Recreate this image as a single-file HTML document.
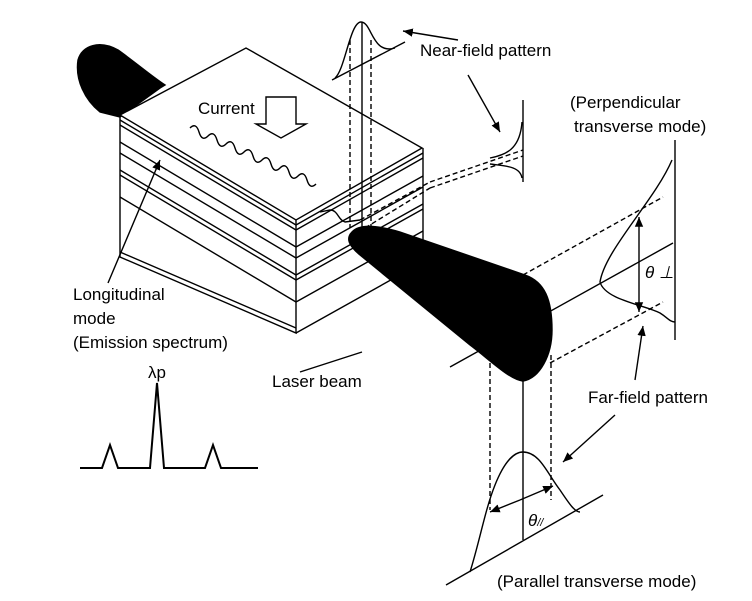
<!DOCTYPE html>
<html><head><meta charset="utf-8"><style>
html,body{margin:0;padding:0;background:#fff}
svg{display:block}
text{font-family:"Liberation Sans",sans-serif;font-size:17px;fill:#000;stroke:none}
</style></head><body>
<svg width="752" height="601" viewBox="0 0 752 601" stroke="#000" fill="none" stroke-width="1.4">
<defs><marker id="ah" markerWidth="8" markerHeight="8" refX="7" refY="4" orient="auto"><path d="M0,1 L7,4 L0,7 Z" fill="#000" stroke="none"/></marker></defs>
<path d="M160,88 L120,117 L100,112 C85,100 75,80 78,60 C82,45 100,40 118,50 C135,62 150,75 165,85 Z" fill="#000"/>
<g>
<path d="M120,115 L246,48 L422,148 L296,220 Z" fill="#fff"/>
<path d="M120,115 L120,257 L296,333 L296,220"/>
<path d="M296,333 L423,262 L423,148"/>
<path d="M120,120 L296,225 M120,125 L296,230 M120,142 L296,247 M120,153 L296,258 M120,170 L296,275 M120,175 L296,280 M120,197 L296,302 M120,252 L296,328"/>
<path d="M296,225 L423,153 M296,230 L423,158 M296,247 L423,176 M296,258 L423,187 M296,275 L423,204 M296,280 L423,209 M296,302 L423,231"/>
<path d="M320,212 L330,210 C338,210 338,220 345,222 L360,220"/>
</g>
<path d="M266,97 L296,97 L296,124 L306,124 L281,138 L256,124 L266,124 Z" fill="#fff"/>
<text x="198" y="114">Current</text>
<path d="M190,128 q6,-6 9,4 q3,10 9,4 q6,-6 9,4 q3,10 9,4 q6,-6 9,4 q3,10 9,4 q6,-6 9,4 q3,10 9,4 q6,-6 9,4 q3,10 9,4 q6,-6 9,4 q3,10 9,4 q6,-6 9,4 q3,10 9,4"/>
<path d="M108,283 L160,160" marker-end="url(#ah)"/>
<text x="73" y="300">Longitudinal</text>
<text x="73" y="324">mode</text>
<text x="73" y="348">(Emission spectrum)</text>
<g>
<path d="M362,22 L362,228"/>
<path d="M350,40 L350,228 M371,40 L371,228" stroke-dasharray="5,3"/>
<path d="M332,80 L405,42"/>
<path d="M335,78 C345,70 350,22 361,22 C372,22 372,55 395,48"/>
<path d="M523,100 L523,182"/>
<path d="M430,182 L523,150 M430,188 L523,156 M360,220 L430,182 M365,228 L430,188" stroke-dasharray="5,3"/>
<path d="M490,158 C505,155 520,150 522,122 M490,164 C505,166 520,166 522,178"/>
<path d="M458,40 L403,31" marker-end="url(#ah)"/>
<path d="M468,75 L500,132" marker-end="url(#ah)"/>
</g>
<text x="420" y="56">Near-field pattern</text>
<path d="M352,232 C360,223 380,226 400,232 L525,275 C545,282 552,300 552,330 C552,355 540,378 523,381 C510,380 490,360 470,345 L360,255 C348,245 346,238 352,232 Z" fill="#000"/>
<path d="M450,367 L673,243"/>
<path d="M300,372 L362,352"/>
<text x="272" y="387">Laser beam</text>
<g>
<path d="M675,140 L675,340"/>
<path d="M523,275 L663,197 M550,363 L663,302" stroke-dasharray="5,3"/>
<path d="M672,160 C655,200 605,250 600,282 C605,300 645,305 660,313 C668,318 670,322 675,322"/>
<path d="M639,240 L639,217" marker-end="url(#ah)"/>
<path d="M639,290 L639,312" marker-end="url(#ah)"/>
<path d="M639,240 L639,290"/>
<text x="645" y="278" font-style="italic" font-family="Liberation Serif">θ ⊥</text>
<path d="M635,380 L643,326" marker-end="url(#ah)"/>
</g>
<text x="570" y="108">(Perpendicular</text>
<text x="574" y="132">transverse mode)</text>
<text x="588" y="403">Far-field pattern</text>
<g>
<path d="M523,381 L523,540"/>
<path d="M490,355 L490,510 M551,355 L551,500" stroke-dasharray="5,3"/>
<path d="M446,585 L603,495"/>
<path d="M470,572 C480,540 485,510 495,485 C505,460 515,452 523,452 C540,452 548,475 560,490 C570,505 575,512 580,512"/>
<path d="M520,500 L490,512" marker-end="url(#ah)"/>
<path d="M520,500 L553,486" marker-end="url(#ah)"/>
<text x="528" y="526" font-style="italic" font-family="Liberation Serif">θ<tspan font-size="11">//</tspan></text>
<path d="M615,415 L563,462" marker-end="url(#ah)"/>
</g>
<text x="497" y="587">(Parallel transverse mode)</text>
<g stroke-width="2">
<path d="M80,468 L102,468 L110,445 L118,468 L150,468 L157,383 L164,468 L205,468 L213,445 L221,468 L258,468"/>
</g>
<text x="148" y="378">λp</text>
</svg>
</body></html>
